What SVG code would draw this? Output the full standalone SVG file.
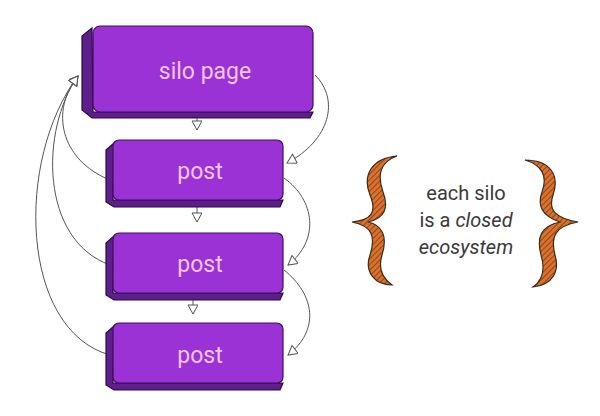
<svg xmlns="http://www.w3.org/2000/svg" width="600" height="416" viewBox="0 0 600 416">
<style>
.side{fill:#5e1f8c;stroke:#2a0d40;stroke-width:1.2}
.front{fill:#9b32d6;stroke:#3a1256;stroke-width:1.2}
.lbl{font-family:Roboto,"Liberation Sans",sans-serif;font-size:23px;fill:#f2c6f2;text-anchor:middle}
.c{fill:none;stroke:#555;stroke-width:1}
.t{font-family:Roboto,"Liberation Sans",sans-serif;font-size:20px;fill:#3a3a3a;text-anchor:middle}
.br{fill:url(#hatch);stroke:#3a2a1a;stroke-width:1.2}
</style>
<defs>
<marker id="ah" markerWidth="12" markerHeight="12" refX="10" refY="5" orient="auto" markerUnits="userSpaceOnUse">
<path d="M1,0 L10,5 L1,10 Z" fill="#fff" stroke="#555" stroke-width="1"/>
</marker>
<pattern id="hatch" width="4" height="4" patternUnits="userSpaceOnUse" patternTransform="rotate(45)">
<rect width="4" height="4" fill="#d9722e"/><line x1="0" y1="0" x2="0" y2="4" stroke="#7a3010" stroke-width="1.4"/>
</pattern>
</defs>
<g id="connectors">
<path class="c" d="M197,113 V130" marker-end="url(#ah)"/>
<path class="c" d="M197,201 V222" marker-end="url(#ah)"/>
<path class="c" d="M193,294 V314" marker-end="url(#ah)"/>
<path class="c" d="M315,75 C340,100 330,140 287,163" marker-end="url(#ah)"/>
<path class="c" d="M284,178 C315,200 320,240 288,265" marker-end="url(#ah)"/>
<path class="c" d="M284,270 C315,295 320,330 288,355" marker-end="url(#ah)"/>
<path class="c" d="M110,180 C60,160 50,110 78,76" marker-end="url(#ah)"/>
<path class="c" d="M110,265 C40,240 40,130 78,76" marker-end="url(#ah)"/>
<path class="c" d="M110,355 C20,330 15,160 78,76" marker-end="url(#ah)"/>
</g>
<g id="silo">
<path class="side" d="M92,28 L82,36 L82,110 L92,118 L310,118 L313,112 L93,112 Z"/>
<rect class="front" x="93" y="26" width="220" height="86" rx="7"/>
<text class="lbl" x="205" y="79">silo page</text>
</g>
<g id="post1">
<path class="side" d="M114,143 L106,150 L106,202 L114,207 L280,207 L283,200 L113,200 Z"/>
<rect class="front" x="113" y="140" width="170" height="60" rx="6"/>
<text class="lbl" x="200" y="179">post</text>
</g>
<g id="post2">
<path class="side" d="M114,236 L106,243 L106,295 L114,300 L280,300 L283,293 L113,293 Z"/>
<rect class="front" x="113" y="233" width="170" height="60" rx="6"/>
<text class="lbl" x="200" y="272">post</text>
</g>
<g id="post3">
<path class="side" d="M114,326 L106,333 L106,385 L114,390 L280,390 L283,383 L113,383 Z"/>
<rect class="front" x="113" y="323" width="170" height="60" rx="6"/>
<text class="lbl" x="200" y="363">post</text>
</g>
<g id="note">
<path class="br" d="M397,156 C372,158 362,175 370,195 C377,212 372,220 352,222 C372,226 376,236 370,255 C364,272 375,285 392,285 C382,278 378,268 382,255 C388,236 382,225 368,222 C385,218 389,208 383,192 C377,175 380,162 397,156 Z"/>
<path class="br" d="M525,160 C550,160 560,175 553,195 C548,210 555,218 578,222 C556,226 550,236 555,255 C560,272 552,285 533,287 C543,280 545,268 541,255 C536,236 542,226 560,222 C542,216 537,206 542,192 C548,176 542,165 525,160 Z"/>
<text class="t" x="466" y="200">each silo</text>
<text class="t" x="466" y="227">is a <tspan font-style="italic">closed</tspan></text>
<text class="t" x="466" y="254" font-style="italic">ecosystem</text>
</g>
</svg>
